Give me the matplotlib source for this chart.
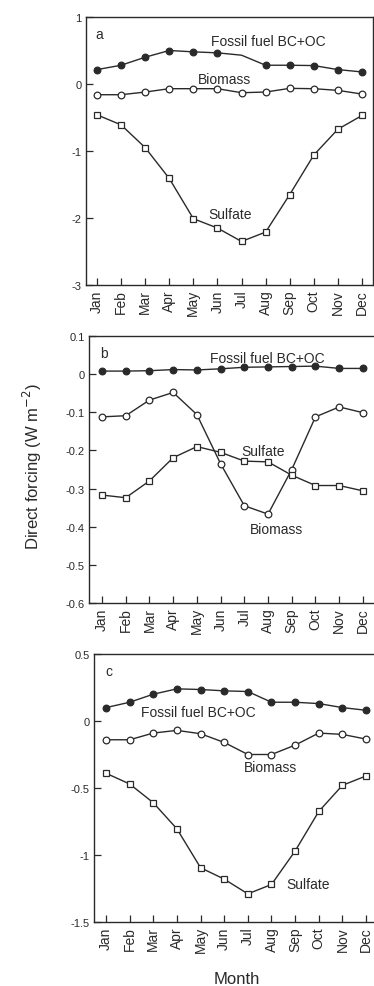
import matplotlib
matplotlib.use("Agg")
import matplotlib.pyplot as plt

plt.rcParams['font.family'] = ['Liberation Sans', 'DejaVu Sans']
plt.rcParams['axes.unicode_minus'] = False

months = ["Jan", "Feb", "Mar", "Apr", "May", "Jun",
          "Jul", "Aug", "Sep", "Oct", "Nov", "Dec"]
x = list(range(1, 13))

# panel a
fossil_a = [0.215, 0.28, 0.40, 0.50, 0.48, 0.465, 0.43, 0.28, 0.28, 0.275, 0.215, 0.18]
biomass_a = [-0.16, -0.16, -0.12, -0.07, -0.07, -0.07, -0.13, -0.12, -0.065, -0.07, -0.095, -0.15]
sulfate_a = [-0.46, -0.61, -0.95, -1.41, -2.01, -2.15, -2.35, -2.21, -1.65, -1.06, -0.675, -0.47]

# panel b
fossil_b = [0.008, 0.008, 0.009, 0.012, 0.011, 0.014, 0.018, 0.019, 0.020, 0.021, 0.015, 0.015]
biomass_b = [-0.112, -0.109, -0.068, -0.048, -0.106, -0.235, -0.345, -0.367, -0.25, -0.112, -0.086, -0.101]
sulfate_b = [-0.317, -0.324, -0.28, -0.219, -0.19, -0.205, -0.228, -0.23, -0.265, -0.292, -0.292, -0.306]

# panel c
fossil_c = [0.10, 0.14, 0.20, 0.24, 0.235, 0.225, 0.22, 0.14, 0.14, 0.13, 0.10, 0.08]
biomass_c = [-0.14, -0.14, -0.09, -0.07, -0.095, -0.16, -0.25, -0.25, -0.18, -0.09, -0.10, -0.135]
sulfate_c = [-0.39, -0.47, -0.61, -0.805, -1.095, -1.18, -1.29, -1.22, -0.97, -0.675, -0.48, -0.41]

W, H = 374, 987
fig = plt.figure(figsize=(W / 100, H / 100), dpi=100)
ink = '#2a2a2a'


def px_axes(l, t, r, b):
    return fig.add_axes([l / W, 1 - b / H, (r - l) / W, (b - t) / H])


def draw(ax, fossil, biomass, sulfate, xlim, ylim, yticks, fossil_marks=None):
    kw = dict(color=ink, lw=1.0, ms=4.8, mew=0.9)
    ax.plot(x, fossil, marker='o', mfc=ink, mec=ink,
            markevery=fossil_marks, **kw)
    ax.plot(x, biomass, marker='o', mfc='white', mec=ink, **kw)
    ax.plot(x, sulfate, marker='s', mfc='white', mec=ink, **kw)
    ax.set_xlim(*xlim)
    ax.set_ylim(*ylim)
    ax.set_xticks(x)
    ax.set_xticklabels(months, rotation=90, fontsize=10, color=ink)
    ax.set_yticks(yticks)
    ax.set_yticklabels(['%g' % v for v in yticks], fontsize=8, color=ink)
    ax.tick_params(direction='in', length=5, width=0.9, color=ink, pad=3)
    for s in ax.spines.values():
        s.set_linewidth(1.0)
        s.set_color(ink)


txt = dict(fontsize=10, color=ink, ha='center', va='center')

ax_a = px_axes(86, 18, 373, 286)
draw(ax_a, fossil_a, biomass_a, sulfate_a, (0.543, 12.457), (-3, 1),
     [1, 0, -1, -2, -3], fossil_marks=[0, 1, 2, 3, 4, 5, 7, 8, 9, 10, 11])
ax_a.text(0.92, 0.75, "a", fontsize=10, color=ink, ha='left', va='center')
ax_a.text(8.1, 0.64, "Fossil fuel BC+OC", **txt)
ax_a.text(6.31, 0.075, "Biomass", **txt)
ax_a.text(6.52, -1.94, "Sulfate", **txt)

ax_b = px_axes(89, 337, 380, 604)
draw(ax_b, fossil_b, biomass_b, sulfate_b, (0.452, 12.72), (-0.6, 0.1),
     [0.1, 0, -0.1, -0.2, -0.3, -0.4, -0.5, -0.6])
ax_b.text(0.92, 0.055, "b", fontsize=10, color=ink, ha='left', va='center')
ax_b.text(7.95, 0.043, "Fossil fuel BC+OC", **txt)
ax_b.text(7.78, -0.2015, "Sulfate", **txt)
ax_b.text(8.37, -0.406, "Biomass", **txt)

ax_c = px_axes(94, 655, 380, 923)
draw(ax_c, fossil_c, biomass_c, sulfate_c, (0.492, 12.59), (-1.5, 0.5),
     [0.5, 0, -0.5, -1, -1.5])
ax_c.text(0.96, 0.373, "c", fontsize=10, color=ink, ha='left', va='center')
ax_c.text(4.89, 0.067, "Fossil fuel BC+OC", **txt)
ax_c.text(7.94, -0.343, "Biomass", **txt)
ax_c.text(9.54, -1.216, "Sulfate", **txt)

fig.text(32 / W, 1 - 467 / H, "Direct forcing (W m$^{-2}$)", rotation=90,
         fontsize=12, color=ink, ha='center', va='center')
fig.text(237 / W, 1 - 980 / H, "Month", fontsize=12, color=ink,
         ha='center', va='center')

fig.savefig("out.png", dpi=100, facecolor='white')
